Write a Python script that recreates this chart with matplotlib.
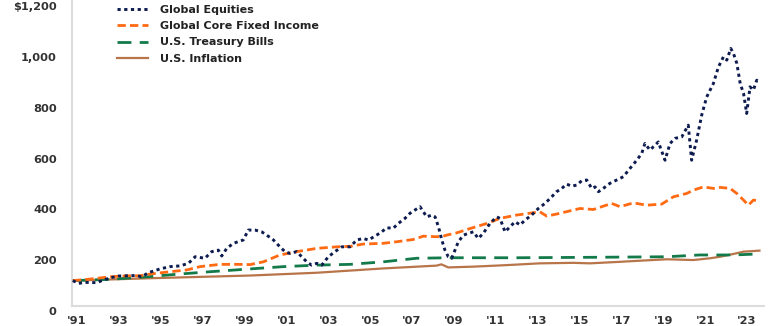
import matplotlib
matplotlib.use("Agg")
import matplotlib.pyplot as plt
from matplotlib.transforms import ScaledTranslation

# Значения (рост $100)
eq_years = [1990.8, 1991.06, 1991.38, 1991.94, 1992.25, 1992.58, 1992.97, 1993.37, 1993.85, 1994.09,
            1994.4, 1994.96, 1995.44, 1995.92, 1996.32, 1996.64, 1997.11, 1997.43, 1997.75, 1997.91,
            1998.15, 1998.47, 1998.94, 1999.18, 1999.5, 1999.82, 2000.06, 2000.38, 2000.69, 2000.93,
            2001.17, 2001.49, 2001.73, 2001.97, 2002.2, 2002.45, 2002.69, 2003.0, 2003.32, 2003.64,
            2004.04, 2004.36, 2004.67, 2004.91, 2005.23, 2005.55, 2005.79, 2006.1, 2006.34, 2006.66,
            2006.9, 2007.14, 2007.38, 2007.54, 2007.7, 2007.94, 2008.1, 2008.26, 2008.42, 2008.57,
            2008.73, 2008.89, 2009.05, 2009.21, 2009.45, 2009.69, 2009.93, 2010.16, 2010.4, 2010.72,
            2011.04, 2011.2, 2011.44, 2011.68, 2011.92, 2012.16, 2012.39, 2012.71, 2013.03, 2013.35,
            2013.67, 2013.9, 2014.15, 2014.38, 2014.62, 2014.86, 2015.1, 2015.34, 2015.58, 2015.74,
            2015.9, 2016.13, 2016.45, 2016.77, 2017.09, 2017.41, 2017.73, 2017.97, 2018.12, 2018.36,
            2018.76, 2019.08, 2019.32, 2019.56, 2019.88, 2020.19, 2020.35, 2020.59, 2020.83, 2021.07,
            2021.39, 2021.63, 2021.87, 2022.03, 2022.22, 2022.35, 2022.51, 2022.67, 2022.83, 2022.98,
            2023.14, 2023.3, 2023.46, 2023.59]
eq_values = [100, 89, 93, 92, 102, 111, 118, 119, 120, 115,
             131, 146, 155, 158, 168, 194, 188, 214, 220, 197,
             227, 247, 260, 299, 299, 292, 279, 260, 233, 214,
             207, 214, 194, 174, 161, 168, 161, 194, 214, 233,
             233, 260, 266, 260, 275, 292, 308, 306, 325, 345,
             365, 378, 391, 371, 351, 358, 351, 312, 260, 220,
             194, 188, 220, 253, 279, 286, 292, 266, 286, 325,
             351, 345, 292, 312, 332, 319, 338, 358, 384, 404,
             430, 450, 463, 480, 472, 476, 493, 496, 463, 469,
             450, 463, 483, 496, 509, 542, 574, 601, 640, 614,
             646, 574, 640, 660, 666, 712, 574, 653, 751, 823,
             876, 941, 981, 968, 1014, 994, 955, 876, 837, 758,
             863, 850, 889, 882]

fi_years = [1990.8, 1991.62, 1992.58, 1993.37, 1994.0, 1994.5, 1995.44, 1996.24, 1996.87, 1997.83,
            1998.78, 1999.26, 1999.9, 2000.69, 2001.49, 2002.45, 2003.4, 2004.04, 2004.67, 2005.63,
            2006.27, 2007.06, 2007.54, 2008.1, 2008.42, 2008.65, 2009.13, 2009.77, 2010.57, 2011.2,
            2011.99, 2013.1, 2013.43, 2013.9, 2015.02, 2015.66, 2016.53, 2016.93, 2017.57, 2018.2,
            2018.92, 2019.48, 2020.11, 2020.43, 2020.91, 2021.39, 2021.71, 2022.19, 2022.51, 2022.83,
            2023.06, 2023.3, 2023.59]
fi_values = [100, 106, 115, 119, 119, 126, 135, 142, 155, 164,
             164, 163, 174, 201, 214, 227, 233, 235, 244, 247,
             253, 262, 275, 273, 273, 279, 288, 305, 325, 345,
             358, 371, 354, 362, 384, 380, 404, 391, 406, 397,
             401, 430, 443, 456, 469, 463, 467, 463, 443, 417,
             397, 417, 414]

tb_years = [1990.8, 1992.58, 1994.33, 1995.76, 1997.35, 1999.26, 2000.85, 2002.45, 2004.04, 2005.63,
            2007.22, 2008.78, 2012.0, 2016.0, 2019.16, 2020.75, 2022.35, 2023.59]
tb_values = [100, 105, 115, 125, 135, 146, 155, 161, 164, 174,
             188, 190, 190, 192, 194, 201, 201, 205]

inf_years = [1990.8, 1994.33, 1999.26, 2002.45, 2005.63, 2008.17, 2008.4, 2008.73, 2009.93, 2011.52,
             2013.1, 2014.7, 2015.5, 2016.93, 2017.57, 2019.16, 2020.43, 2021.23, 2021.71, 2022.35,
             2022.83, 2023.59]
inf_values = [100, 109, 120, 131, 148, 159, 164, 152, 155, 161,
              168, 170, 168, 174, 177, 184, 181, 188, 194, 205,
              214, 218]

tick_years = list(range(1991, 2024, 2))
tick_labels = ["'%02d" % (y % 100) for y in tick_years]
y_ticks = [0, 200, 400, 600, 800, 1000, 1200]
y_labels = ["0", "200", "400", "600", "800", "1,000", "$1,200"]

fig = plt.figure(figsize=(7.8, 3.26), dpi=100)
ax = fig.add_axes([0.0923, 0.0613, 0.887, 0.935])

ax.plot(inf_years, inf_values, color="#b8754a", lw=1.6, label="U.S. Inflation", zorder=2)
ax.plot(tb_years, tb_values, color="#137a4a", lw=2.0, dashes=(5, 3), label="U.S. Treasury Bills", zorder=3)
ax.plot(fi_years, fi_values, color="#ff6a13", lw=2.0, dashes=(3, 1.5), label="Global Core Fixed Income", zorder=4)
ax.plot(eq_years, eq_values, color="#0d1b4f", lw=2.1, dashes=(1.1, 1.2), label="Global Equities", zorder=5)

ax.set_xlim(1990.76, 2023.8)
ax.set_ylim(0, 1200)
ax.set_xticks(tick_years)
ax.set_xticklabels(tick_labels)
ax.set_yticks(y_ticks)
ax.set_yticklabels(y_labels)
ax.tick_params(length=0, labelsize=8.2, labelcolor="#333333")
ax.tick_params(axis="y", pad=11)
ax.tick_params(axis="x", pad=7)
for lbl in ax.get_yticklabels():
    lbl.set_transform(lbl.get_transform() + ScaledTranslation(0, -5 / 100, fig.dpi_scale_trans))
for lbl in ax.get_xticklabels() + ax.get_yticklabels():
    lbl.set_fontweight("semibold")

for s in ["top", "right"]:
    ax.spines[s].set_visible(False)
for s in ["left", "bottom"]:
    ax.spines[s].set_color("#dcdcdc")
    ax.spines[s].set_linewidth(1.5)

h, l = ax.get_legend_handles_labels()
leg = ax.legend(h[::-1], l[::-1], loc="upper left", bbox_to_anchor=(0.05, 1.022), frameon=False,
                handlelength=2.8, handletextpad=1.1, labelspacing=0.58,
                prop={"weight": "semibold", "size": 8.0})
for t in leg.get_texts():
    t.set_color("#222222")

fig.savefig("out.png", dpi=100)
